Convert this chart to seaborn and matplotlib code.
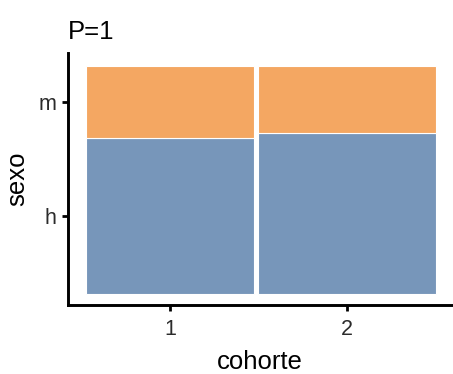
import matplotlib
matplotlib.use("Agg")
import matplotlib.pyplot as plt
import seaborn as sns
import pandas as pd
import numpy as np

# Data
cohortes = ["1", "2"]
cohorte_share = [0.485, 0.515]        # share of observations per cohort (column widths)
sexos = ["h", "m"]
prop_h = [0.684, 0.703]               # proportion of 'h' within each cohort
prop_m = [0.316, 0.297]               # proportion of 'm' within each cohort
colors = {"h": "#7796BA", "m": "#F4A762"}
title = "P=1"

sns.set_theme(style="ticks")
plt.rcParams["font.family"] = ["Liberation Sans", "DejaVu Sans"]

fig = plt.figure(figsize=(4.53, 3.74), dpi=100)
ax = fig.add_axes([0.150, 0.1845, 0.848, 0.6735])

gap = 0.01
usable = 1 - gap * (len(cohortes) - 1)
widths = [s * usable for s in cohorte_share]
lefts = np.concatenate([[0], np.cumsum(np.array(widths) + gap)[:-1]])
centers = lefts + np.array(widths) / 2

df = pd.DataFrame({"cohorte": cohortes, "left": lefts, "width": widths,
                   "h": prop_h, "m": prop_m})

ax.bar(df["left"], df["h"], width=df["width"], align="edge",
       color=colors["h"], edgecolor="white", linewidth=0.8)
ax.bar(df["left"], df["m"], bottom=df["h"], width=df["width"], align="edge",
       color=colors["m"], edgecolor="white", linewidth=0.8)

ax.set_xlim(-0.052, 1.045)
ax.set_ylim(-0.05, 1.055)
ax.set_xticks(centers)
ax.set_xticklabels(cohortes)
ax.set_yticks([prop_h[0] / 2, prop_h[0] + prop_m[0] / 2])
ax.set_yticklabels(sexos)

ax.set_xlabel("cohorte", fontsize=18.5, color="black", labelpad=7)
ax.set_ylabel("sexo", fontsize=18.5, color="black", labelpad=7)
ax.tick_params(axis="both", labelsize=15.5, labelcolor="#2b2b2b", length=4,
               width=2.0, color="black", pad=4)
ax.tick_params(axis="x", pad=6)
sns.despine(ax=ax)
for s in ["left", "bottom"]:
    ax.spines[s].set_linewidth(2.1)
    ax.spines[s].set_color("black")

fig.text(0.150, 0.915, title, fontsize=18.5, ha="left", va="center", color="black")

fig.savefig("out.png", dpi=100)
